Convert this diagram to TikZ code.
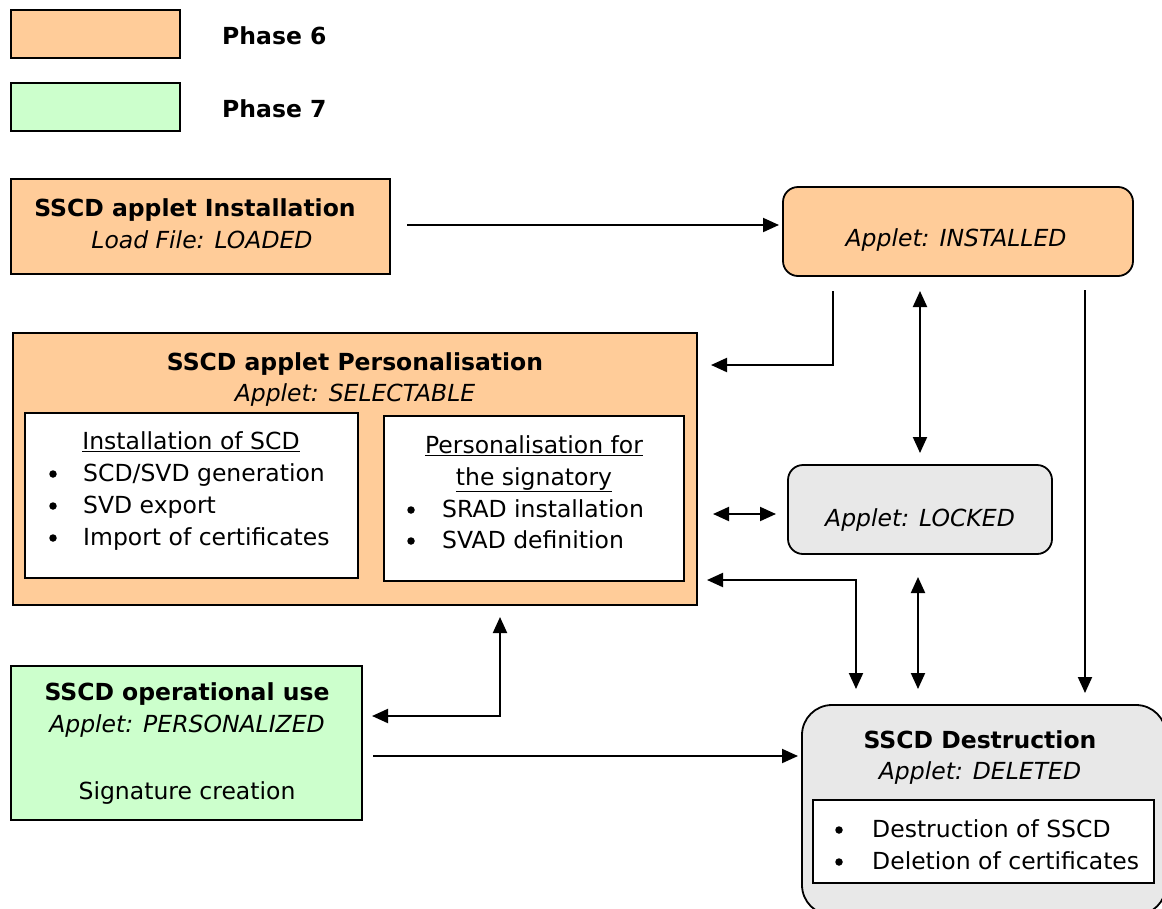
\documentclass[tikz,border=0pt]{standalone}
\usepackage{fontspec}
\setmainfont{DejaVu Sans}
\usetikzlibrary{arrows.meta}
\definecolor{phsix}{HTML}{FFCC99}
\definecolor{phseven}{HTML}{CCFFCC}
\definecolor{lgray}{HTML}{E8E8E8}
\newcommand{\fs}{\fontsize{23.5}{31}\selectfont}
\begin{document}
\begin{tikzpicture}[x=1pt,y=-1pt,
  box/.style={draw=black, line width=1.8pt, inner sep=0pt, outer sep=0pt, anchor=north west},
  rbox/.style={box, rounded corners=15pt},
  txt/.style={inner sep=0pt, anchor=base, font=\fs},
  btxt/.style={txt, font=\fs\bfseries},
  itxt/.style={txt, font=\fs\itshape},
  bul/.style={circle, fill=black, inner sep=0pt, minimum size=7.5pt},
  arr/.style={line width=2pt, -{Triangle[length=16pt,width=14pt]}},
  darr/.style={line width=2pt, {Triangle[length=16pt,width=14pt]}-{Triangle[length=16pt,width=14pt]}}
]
\useasboundingbox (0,0) rectangle (1162,908);
\clip (0,0) rectangle (1162,908);
\fill[white] (0,0) rectangle (1162,908);

% legend
\node[box, fill=phsix, minimum width=169, minimum height=48] (leg6) at (11,10) {};
\node[box, fill=phseven, minimum width=169, minimum height=48] (leg7) at (11,83) {};
\node[btxt, anchor=base west] (l6) at (222,44) {Phase 6};
\node[btxt, anchor=base west] (l7) at (222,117) {Phase 7};

% installation
\node[box, fill=phsix, minimum width=379, minimum height=95] (inst) at (11,179) {};
\node[btxt] (instT) at (195,216) {SSCD applet Installation};
\node[itxt] (instS) at (202,248) {Load File: LOADED};

% installed
\node[rbox, fill=phsix, minimum width=350, minimum height=89] (instd) at (783,187) {};
\node[itxt] (instdT) at (956,246) {Applet: INSTALLED};

% personalisation
\node[box, fill=phsix, minimum width=684, minimum height=272] (pers) at (13,333) {};
\node[btxt] (persT) at (355,370) {SSCD applet Personalisation};
\node[itxt] (persS) at (355,401) {Applet: SELECTABLE};
\node[box, fill=white, minimum width=333, minimum height=165] (pL) at (25,413) {};
\node[txt] (pLh) at (191,449) {\underline{Installation of SCD}};
\node[bul] (pLb1) at (53,474) {};
\node[bul] (pLb2) at (53,506) {};
\node[bul] (pLb3) at (53,538) {};
\node[txt, anchor=base west] (pL1) at (83,481) {SCD/SVD generation};
\node[txt, anchor=base west] (pL2) at (83,513) {SVD export};
\node[txt, anchor=base west] (pL3) at (83,545) {Import of certificates};
\node[box, fill=white, minimum width=300, minimum height=165] (pR) at (384,416) {};
\node[txt] (pRh1) at (534,453) {\underline{Personalisation for}};
\node[txt] (pRh2) at (534,485) {\underline{the signatory}};
\node[bul] (pRb1) at (411,510) {};
\node[bul] (pRb2) at (411,541) {};
\node[txt, anchor=base west] (pR1) at (442,517) {SRAD installation};
\node[txt, anchor=base west] (pR2) at (442,548) {SVAD definition};

% locked
\node[rbox, fill=lgray, minimum width=264, minimum height=89] (lock) at (788,465) {};
\node[itxt] (lockT) at (920,526) {Applet: LOCKED};

% operational
\node[box, fill=phseven, minimum width=351, minimum height=154] (oper) at (11,666) {};
\node[btxt] (operT) at (187,700) {SSCD operational use};
\node[itxt] (operS) at (187,732) {Applet: PERSONALIZED};
\node[txt] (operX) at (187,799) {Signature creation};

% destruction
\node[box, rounded corners=30pt, fill=lgray, minimum width=364, minimum height=210] (dest) at (802,705) {};
\node[btxt] (destT) at (980,748) {SSCD Destruction};
\node[itxt] (destS) at (980,779) {Applet: DELETED};
\node[box, fill=white, minimum width=341, minimum height=83] (dIn) at (813,800) {};
\node[bul] (dB1) at (839,830) {};
\node[bul] (dB2) at (839,862) {};
\node[txt, anchor=base west] (d1) at (872,837) {Destruction of SSCD};
\node[txt, anchor=base west] (d2) at (872,869) {Deletion of certificates};

% connector end points
\coordinate (a1s) at (407,225); \coordinate (a1e) at (779,225);
\coordinate (a2s) at (833,291); \coordinate (a2e) at (711,365);
\coordinate (a3s) at (920,291); \coordinate (a3e) at (920,453);
\coordinate (a4s) at (1085,290); \coordinate (a4e) at (1085,693);
\coordinate (a5s) at (713,514); \coordinate (a5e) at (776,514);
\coordinate (a6s) at (707,580); \coordinate (a6e) at (856,689);
\coordinate (a7s) at (918,577); \coordinate (a7e) at (918,689);
\coordinate (a8s) at (500,617); \coordinate (a8e) at (372,716);
\coordinate (a9s) at (373,756); \coordinate (a9e) at (798,756);

\draw[arr] (a1s) -- (a1e);
\draw[arr] (a2s) |- (a2e);
\draw[darr] (a3s) -- (a3e);
\draw[arr] (a4s) -- (a4e);
\draw[darr] (a5s) -- (a5e);
\draw[darr] (a6s) -| (a6e);
\draw[darr] (a7s) -- (a7e);
\draw[darr] (a8s) |- (a8e);
\draw[arr] (a9s) -- (a9e);
\end{tikzpicture}
\end{document}
